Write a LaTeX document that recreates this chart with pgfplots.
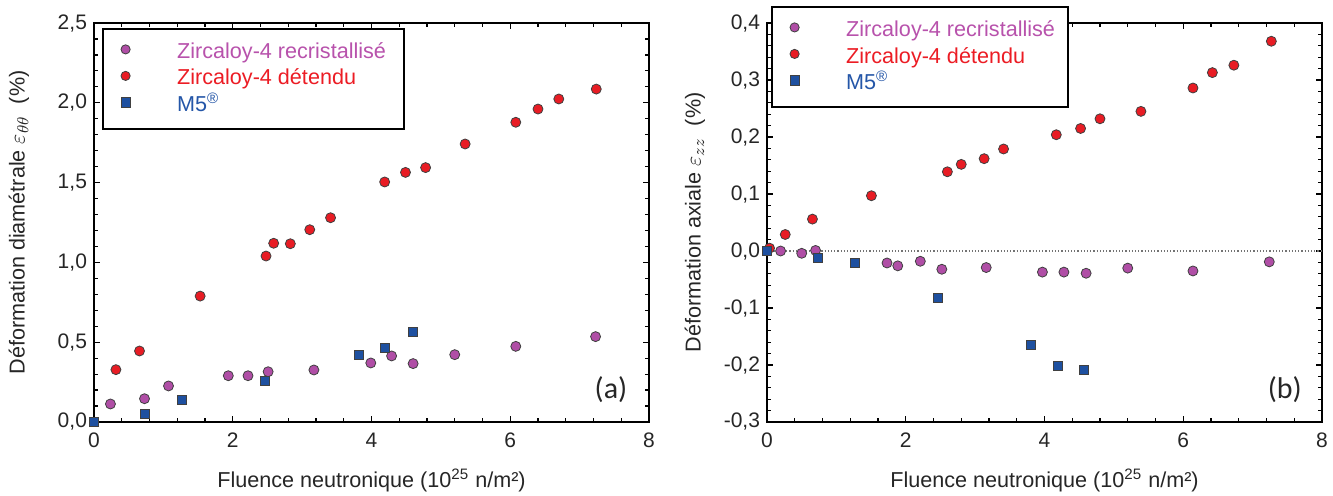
\documentclass[border=0pt]{standalone}
\usepackage{fontspec}
\setmainfont{Liberation Sans}
\newfontfamily\carlito{Carlito}
\usepackage{pgfplots}
\pgfplotsset{compat=1.18}

\definecolor{cpurple}{RGB}{176,78,166}
\definecolor{cred}{RGB}{232,28,36}
\definecolor{cblue}{RGB}{30,80,160}
\definecolor{tpurple}{RGB}{184,82,172}
\definecolor{tred}{RGB}{236,28,36}
\definecolor{tblue}{RGB}{36,86,168}

\pgfplotsset{
  myaxis/.style={
    scale only axis, width=277.5pt, height=199.5pt,
    xmin=0, xmax=8, xtick={0,2,4,6,8}, xticklabels={0,2,4,6,8},
    minor x tick num=4, minor y tick num=4,
    axis line style={line width=1.4pt},
    every tick/.style={black, line width=0.6pt},
    major tick length=3pt, minor tick length=1.8pt,
    tick align=inside,
    clip=false,
    tick label style={text=black!85, font=\fontsize{10.5}{12.6}\selectfont},
    xticklabel style={yshift=-2pt},
    label style={text=black!85, font=\fontsize{10.8}{13}\selectfont},
    xlabel={Fluence neutronique (10\textsuperscript{25} n/m²)},
    xlabel style={at={(axis description cs:0.5,-0.1454)}, anchor=center},
    legend cell align=left,
    legend image post style={mark size=2.3pt, yshift=1.8pt},
    legend style={draw=none, fill=none, inner sep=0pt, outer sep=0pt, row sep=2.75pt,
       anchor=north west, xshift=9pt, yshift=-6.75pt,
       nodes={inner sep=0pt, text height=8pt, text depth=2.5pt, font=\fontsize{10.8}{13}\selectfont},
       /tikz/every odd column/.append style={column sep=23.5pt}},
  },
  zrx/.style={only marks, mark=*, mark size=2.5pt, mark options={fill=cpurple, draw=black!75, line width=0.4pt}},
  zdt/.style={only marks, mark=*, mark size=2.5pt, mark options={fill=cred, draw=black!75, line width=0.4pt}},
  mfive/.style={only marks, mark=square*, mark size=2.25pt, mark options={fill=cblue, draw=black!75, line width=0.4pt}},
}

\begin{document}
\begin{tikzpicture}
\useasboundingbox (0,0) rectangle (666.5pt,247.5pt);

% ---------------- (a)
\begin{axis}[myaxis, at={(47pt,36.5pt)}, anchor=south west,
  ymin=0, ymax=2.5, ytick={0,0.5,1,1.5,2,2.5},
  yticklabels={{0,0},{0,5},{1,0},{1,5},{2,0},{2,5}},
  ylabel={Déformation diamétrale $\varepsilon_{\theta\theta}$\ \ (\%)},
  ylabel style={at={(axis description cs:-0.1351,0.5)}, anchor=center},
  legend style={at={(axis description cs:0.0162,0.985)}},
]
\addplot[zrx] coordinates {(0.237,0.113) (0.728,0.146) (1.074,0.226) (1.936,0.290) (2.22,0.290) (2.51,0.315) (3.17,0.326) (3.99,0.370) (4.29,0.414) (4.60,0.366) (5.20,0.422) (6.08,0.474) (7.23,0.535)};
\addlegendentry{\textcolor{tpurple}{Zircaloy-4 recristallisé}}
\addplot[zdt] coordinates {(0.316,0.328) (0.656,0.445) (1.53,0.789) (2.48,1.04) (2.59,1.12) (2.83,1.117) (3.11,1.205) (3.41,1.28) (4.19,1.504) (4.49,1.564) (4.78,1.594) (5.35,1.742) (6.08,1.878) (6.40,1.961) (6.70,2.024) (7.24,2.086)};
\addlegendentry{\textcolor{tred}{Zircaloy-4 détendu}}
\addplot[mfive] coordinates {(0,0) (0.734,0.052) (1.27,0.140) (2.46,0.255) (3.82,0.422) (4.19,0.466) (4.60,0.562)};
\addlegendentry{\textcolor{tblue}{M5\textsuperscript{®}}}
\draw[line width=1.4pt, fill=white] (axis description cs:0.0162,0.985) rectangle (axis description cs:0.5586,0.7343);
\node[font=\carlito\fontsize{15}{18}\selectfont, text=black!85] at (axis description cs:0.9315,0.08) {(a)};
\end{axis}

% ---------------- (b)
\begin{axis}[myaxis, at={(383.5pt,36.5pt)}, anchor=south west,
  ymin=-0.3, ymax=0.4, ytick={-0.3,-0.2,-0.1,0,0.1,0.2,0.3,0.4},
  yticklabels={{-0,3},{-0,2},{-0,1},{0,0},{0,1},{0,2},{0,3},{0,4}},
  ylabel={Déformation axiale $\varepsilon_{zz}$\ \ (\%)},
  ylabel style={at={(axis description cs:-0.1297,0.5)}, anchor=center},
  legend style={at={(axis description cs:0.009,1.0401)}},
]
\draw[densely dotted, black!55, line width=0.6pt] (axis cs:0,0) -- (axis cs:8,0);
\addplot[zrx] coordinates {(0.196,0.000) (0.50,-0.004) (0.70,0.001) (1.73,-0.021) (1.885,-0.026) (2.21,-0.018) (2.52,-0.032) (3.16,-0.029) (3.97,-0.037) (4.28,-0.037) (4.60,-0.039) (5.20,-0.030) (6.14,-0.035) (7.24,-0.019)};
\addlegendentry{\textcolor{tpurple}{Zircaloy-4 recristallisé}}
\addplot[zdt] coordinates {(0.037,0.005) (0.263,0.029) (0.655,0.056) (1.505,0.097) (2.60,0.139) (2.80,0.152) (3.13,0.162) (3.41,0.179) (4.17,0.204) (4.52,0.215) (4.80,0.232) (5.39,0.245) (6.14,0.286) (6.42,0.313) (6.73,0.326) (7.27,0.368)};
\addlegendentry{\textcolor{tred}{Zircaloy-4 détendu}}
\addplot[mfive] coordinates {(0,0) (0.734,-0.012) (1.26,-0.021) (2.47,-0.082) (3.80,-0.165) (4.20,-0.202) (4.57,-0.209)};
\addlegendentry{\textcolor{tblue}{M5\textsuperscript{®}}}
\draw[line width=1.4pt, fill=white] (axis description cs:0.009,1.0401) rectangle (axis description cs:0.5423,0.7895);
\node[font=\carlito\fontsize{15}{18}\selectfont, text=black!85] at (axis description cs:0.933,0.08) {(b)};
\end{axis}
\end{tikzpicture}
\end{document}
